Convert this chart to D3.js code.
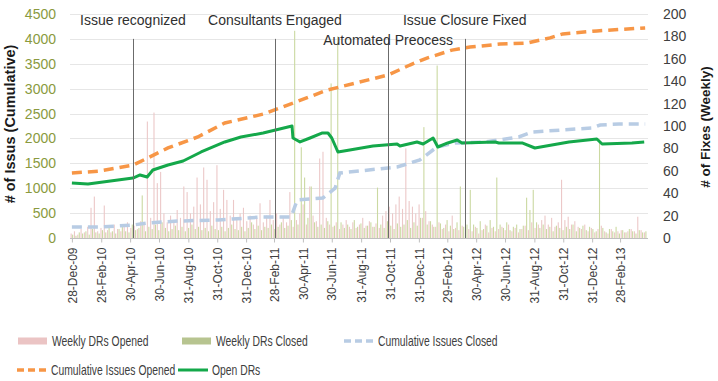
<!DOCTYPE html>
<html>
<head>
<meta charset="utf-8">
<script src="https://cdn.jsdelivr.net/npm/d3@7/dist/d3.min.js"></script>
<style>
body { margin: 0; background: #fff; }
text { font-family: "Liberation Sans", Arial, sans-serif; }
.legend text { font-size: 14px; fill: #404040; }
</style>
</head>
<body>
<div id="chart"></div>
<script>
// weekly bars, one value per week starting on firstWeek
var firstWeek = "2009-12-28";
var weeklyOpened = [
  4, 6, 3, 8, 5, 10, 27, 37, 6, 9,
  29, 7, 5, 12, 8, 6, 10, 14, 9, 11,
  8, 15, 12, 104, 18, 112, 49, 59, 22, 14,
  20, 16, 25, 18, 46, 41, 22, 28, 54, 30,
  63, 52, 24, 32, 65, 26, 43, 34, 20, 34,
  18, 22, 27, 15, 20, 12, 18, 31, 14, 20,
  34, 16, 22, 12, 18, 14, 41, 10, 16, 22,
  30, 12, 46, 20, 15, 71, 77, 18, 12, 10,
  14, 8, 12, 16, 10, 14, 9, 12, 18, 11,
  15, 10, 13, 9, 20, 24, 28, 22, 30, 37,
  26, 80, 33, 28, 22, 30, 18, 24, 15, 12,
  10, 14, 8, 12, 6, 20, 9, 7, 11, 5,
  8, 6, 10, 4, 7, 12, 5, 9, 6, 8,
  10, 7, 12, 6, 9, 5, 8, 11, 7, 14,
  9, 12, 16, 20, 12, 18, 10, 14, 52, 16,
  19, 12, 15, 10, 8, 12, 6, 9, 5, 8,
  11, 6, 4, 8, 5, 6, 7, 5, 6, 8,
  6, 19, 7, 5
];
var weeklyClosed = [
  3, 2, 5, 4, 6, 3, 8, 5, 4, 7,
  5, 9, 6, 4, 8, 10, 6, 5, 12, 7,
  9, 38, 6, 10, 8, 12, 7, 14, 9, 6,
  8, 11, 7, 10, 6, 9, 12, 8, 10, 7,
  9, 6, 11, 8, 7, 10, 6, 9, 12, 8,
  7, 10, 6, 9, 14, 8, 11, 7, 10, 9,
  12, 8, 10, 14, 9, 11, 16, 185, 12, 81,
  54, 18, 46, 14, 10, 12, 9, 15, 138, 11,
  180, 14, 9, 12, 8, 16, 10, 13, 9, 11,
  14, 10, 45, 12, 9, 15, 11, 8, 13, 10,
  12, 16, 9, 14, 11, 18, 99, 12, 15, 10,
  154, 13, 9, 16, 11, 8, 14, 46, 10, 12,
  43, 12, 9, 15, 8, 11, 16, 10, 54, 12,
  9, 14, 7, 10, 12, 8, 11, 36, 25, 43,
  14, 9, 12, 8, 10, 6, 11, 9, 7, 10,
  8, 12, 6, 9, 11, 7, 10, 8, 6, 88,
  9, 5, 8, 6, 10, 4, 7, 5, 8, 6,
  4, 7, 5, 6
];

// cumulative issues opened
var cumOpenedDates = ["2009-12-28","2010-02-25","2010-05-06","2010-06-07","2010-07-19","2010-09-20","2010-11-16",
  "2011-02-05","2011-04-09","2011-06-20","2011-10-27","2011-12-12","2012-01-17","2012-03-10","2012-04-17",
  "2012-06-19","2012-08-15","2012-10-03","2012-10-30","2013-01-10","2013-04-22"];
var cumOpenedValues = [1305, 1345, 1465, 1610, 1810, 2030, 2310,
  2490, 2710, 2970, 3275, 3475, 3615, 3775, 3835,
  3895, 3915, 4020, 4100, 4160, 4220];

// cumulative issues closed
var cumClosedDates = ["2009-12-28","2010-02-27","2010-05-06","2010-06-07","2010-08-09","2010-11-02","2011-02-05",
  "2011-04-05","2011-04-18","2011-06-11","2011-07-07","2011-07-17","2011-11-15","2012-01-02","2012-02-07",
  "2012-03-16","2012-05-19","2012-07-29","2012-08-26","2012-10-28","2012-12-31","2013-01-17","2013-02-26","2013-04-22"];
var cumClosedValues = [221, 221, 261, 301, 341, 362, 422,
  422, 763, 804, 1000, 1306, 1426, 1567, 1828,
  1909, 1929, 2029, 2130, 2170, 2210, 2270, 2290, 2290];

// open DRs
var openDates = ["2009-12-28","2010-01-31","2010-05-06","2010-05-21","2010-06-05","2010-06-17","2010-07-19",
  "2010-08-20","2010-09-27","2010-11-16","2010-12-20","2011-02-05","2011-04-07","2011-04-09","2011-04-24",
  "2011-05-15","2011-06-09","2011-06-22","2011-06-30","2011-07-13","2011-08-07","2011-09-25","2011-11-15",
  "2011-11-21","2011-12-27","2012-01-09","2012-01-30","2012-02-09","2012-03-01","2012-03-21","2012-03-31",
  "2012-06-09","2012-06-17","2012-08-05","2012-09-01","2012-10-07","2012-11-12","2013-01-10","2013-01-21",
  "2013-03-25","2013-04-20"];
var openValues = [1105, 1085, 1205, 1266, 1225, 1366, 1467,
  1547, 1728, 1929, 2029, 2109, 2250, 2009, 1929,
  2009, 2109, 2109, 2009, 1728, 1768, 1848, 1888,
  1848, 1929, 1888, 2009, 1828, 1909, 1969, 1909,
  1929, 1909, 1909, 1808, 1868, 1929, 1989, 1888,
  1909, 1929];

// milestones
var milestoneLabels = ["Issue recognized", "Consultants Engaged", "Automated Preocess", "Issue Closure Fixed"];
var milestoneDates = ["2010-05-06", "2011-03-02", "2011-10-27", "2012-04-06"];
var milestoneRows = [0, 0, 1, 0];

var xTickLabels = ["28-Dec-09","28-Feb-10","30-Apr-10","30-Jun-10","31-Aug-10","31-Oct-10","31-Dec-10",
  "28-Feb-11","30-Apr-11","30-Jun-11","31-Aug-11","31-Oct-11","31-Dec-11","29-Feb-12","30-Apr-12",
  "30-Jun-12","31-Aug-12","31-Oct-12","31-Dec-12","28-Feb-13"];
var leftTicks = [0, 500, 1000, 1500, 2000, 2500, 3000, 3500, 4000, 4500];
var rightTicks = [0, 20, 40, 60, 80, 100, 120, 140, 160, 180, 200];

var W = 718, H = 381;
var plotL = 70, plotR = 648, plotT = 14, plotB = 238;

var parseISO = d3.timeParse("%Y-%m-%d");
var parseTick = d3.timeParse("%d-%b-%y");

var svg = d3.select("#chart").append("svg")
  .attr("width", W).attr("height", H);

var x = d3.scaleTime()
  .domain([parseISO("2009-12-24"), parseISO("2013-04-28")])
  .range([plotL, plotR]);
var y = d3.scaleLinear().domain([0, 4500]).range([plotB, plotT]);
var y2 = d3.scaleLinear().domain([0, 200]).range([plotB, plotT]);

// grid
svg.append("g").selectAll("line")
  .data(leftTicks.slice(1))
  .enter().append("line")
  .attr("x1", plotL).attr("x2", plotR)
  .attr("y1", function(d) { return Math.round(y(d)) + 0.5; })
  .attr("y2", function(d) { return Math.round(y(d)) + 0.5; })
  .attr("stroke", "#e6e6e6").attr("stroke-width", 1);

// axis labels
var leftAxis = svg.append("g")
  .attr("transform", "translate(" + (plotL - 14) + ",0)")
  .call(d3.axisLeft(y).tickValues(leftTicks).tickFormat(d3.format("d")).tickSize(0).tickPadding(0));
leftAxis.select(".domain").remove();
leftAxis.selectAll("text")
  .style("font-size", "14px").style("fill", "#8a9a3e")
  .style("font-family", "Liberation Sans, Arial, sans-serif");

var rightAxis = svg.append("g")
  .attr("transform", "translate(" + (plotR + 15) + ",0)")
  .call(d3.axisRight(y2).tickValues(rightTicks).tickSize(0).tickPadding(0));
rightAxis.select(".domain").remove();
rightAxis.selectAll("text")
  .style("font-size", "14px").style("fill", "#404040")
  .style("font-family", "Liberation Sans, Arial, sans-serif");

// weekly bars
var week0 = parseISO(firstWeek);
function weekDate(i) { return d3.timeDay.offset(week0, 7 * i); }

svg.append("g").selectAll("rect")
  .data(weeklyOpened)
  .enter().append("rect")
  .attr("x", function(d, i) { return x(weekDate(i)) - 1.3; })
  .attr("width", 1.1)
  .attr("y", function(d) { return y2(d); })
  .attr("height", function(d) { return plotB - y2(d); })
  .attr("fill", "#ecc8c8");

svg.append("g").selectAll("rect")
  .data(weeklyClosed)
  .enter().append("rect")
  .attr("x", function(d, i) { return x(weekDate(i)) + 0.2; })
  .attr("width", 1.1)
  .attr("y", function(d) { return y2(d); })
  .attr("height", function(d) { return plotB - y2(d); })
  .attr("fill", "#cbd9a2");

// x axis
svg.append("line")
  .attr("x1", plotL).attr("x2", plotR)
  .attr("y1", plotB + 0.5).attr("y2", plotB + 0.5)
  .attr("stroke", "#bfbfbf");

var xAxis = svg.append("g")
  .attr("transform", "translate(0," + (plotB + 0.5) + ")")
  .call(d3.axisBottom(x)
    .tickValues(xTickLabels.map(function(s) { return parseTick(s); }))
    .tickFormat(function(d, i) { return xTickLabels[i]; })
    .tickSize(4));
xAxis.select(".domain").remove();
xAxis.selectAll("line").attr("stroke", "#bfbfbf");
xAxis.selectAll("text")
  .attr("transform", "rotate(-90)")
  .attr("x", -9).attr("y", 0).attr("dy", "0.35em")
  .style("text-anchor", "end")
  .style("font-size", "12px").style("fill", "#404040")
  .style("font-family", "Liberation Sans, Arial, sans-serif");

// milestone lines
var ms = svg.append("g");
ms.selectAll("line")
  .data(milestoneDates)
  .enter().append("line")
  .attr("x1", function(d) { return Math.round(x(parseISO(d))) + 0.5; })
  .attr("x2", function(d) { return Math.round(x(parseISO(d))) + 0.5; })
  .attr("y1", y(4000)).attr("y2", plotB)
  .attr("stroke", "#6b6b6b").attr("stroke-width", 1);

// lines
function series(dates, values) {
  return dates.map(function(d, i) { return { date: parseISO(d), value: values[i] }; });
}
var line = d3.line()
  .x(function(d) { return x(d.date); })
  .y(function(d) { return y(d.value); });

svg.append("path")
  .datum(series(cumClosedDates, cumClosedValues))
  .attr("d", line)
  .attr("fill", "none").attr("stroke", "#b8cce4")
  .attr("stroke-width", 3.5).attr("stroke-dasharray", "10,6");

svg.append("path")
  .datum(series(cumOpenedDates, cumOpenedValues))
  .attr("d", line)
  .attr("fill", "none").attr("stroke", "#f79646")
  .attr("stroke-width", 3.5).attr("stroke-dasharray", "10,6");

svg.append("path")
  .datum(series(openDates, openValues))
  .attr("d", line)
  .attr("fill", "none").attr("stroke", "#14a84a")
  .attr("stroke-width", 3).attr("stroke-linejoin", "round");

ms.raise();
ms.selectAll("text")
  .data(milestoneLabels)
  .enter().append("text")
  .attr("x", function(d, i) { return x(parseISO(milestoneDates[i])); })
  .attr("y", function(d, i) { return milestoneRows[i] === 0 ? 25 : 45; })
  .attr("text-anchor", "middle")
  .style("font-size", "14px").style("fill", "#303030")
  .text(function(d) { return d; });

// axis titles
svg.append("text")
  .attr("transform", "translate(15,124) rotate(-90)")
  .attr("text-anchor", "middle")
  .style("font-size", "14.5px").style("font-weight", "bold").style("fill", "#1a1a1a")
  .text("# of Issus (Cumulative)");

svg.append("text")
  .attr("transform", "translate(710,127) rotate(-90)")
  .attr("text-anchor", "middle")
  .style("font-size", "13.5px").style("font-weight", "bold").style("fill", "#1a1a1a")
  .text("# of Fixes (Weekly)");

// legend
var legendItems = [
  { label: "Weekly DRs Opened", kind: "bar", color: "#ebc4c4", x: 18, y: 341 },
  { label: "Weekly DRs Closed", kind: "bar", color: "#b7c490", x: 182, y: 341 },
  { label: "Cumulative Issues Closed", kind: "dash", color: "#b8cce4", x: 344, y: 341 },
  { label: "Cumulative Issues Opened", kind: "dash", color: "#f79646", x: 17, y: 370 },
  { label: "Open DRs", kind: "line", color: "#14a84a", x: 178, y: 370 }
];
var lg = svg.append("g").attr("class", "legend");
legendItems.forEach(function(it) {
  if (it.kind === "bar") {
    lg.append("rect").attr("x", it.x).attr("y", it.y - 3.5)
      .attr("width", 29).attr("height", 7).attr("fill", it.color);
  } else {
    lg.append("line").attr("x1", it.x).attr("x2", it.x + 30)
      .attr("y1", it.y).attr("y2", it.y)
      .attr("stroke", it.color).attr("stroke-width", it.kind === "line" ? 3 : 3.5)
      .attr("stroke-dasharray", it.kind === "dash" ? "7,4" : null);
  }
  // narrow the text horizontally to mimic the condensed legend font
  lg.append("text")
    .attr("transform", "translate(" + (it.x + 34) + "," + it.y + ") scale(0.74,1)")
    .attr("dy", "0.35em")
    .text(it.label);
});
</script>
</body>
</html>
